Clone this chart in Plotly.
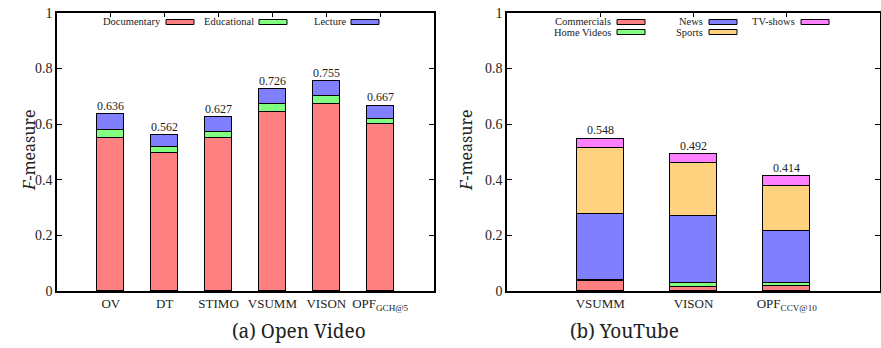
import plotly.graph_objects as go

W, H = 881, 348

# ---------------- data ----------------
ov_categories = ["OV", "DT", "STIMO", "VSUMM", "VISON", "OPF<sub>GCH@5</sub>"]
ov_series = ["Documentary", "Educational", "Lecture"]
ov_documentary = [0.551, 0.496, 0.552, 0.643, 0.672, 0.600]
ov_educational = [0.027, 0.023, 0.022, 0.031, 0.030, 0.019]
ov_lecture = [0.058, 0.043, 0.053, 0.052, 0.053, 0.048]
ov_totals = [0.636, 0.562, 0.627, 0.726, 0.755, 0.667]

yt_categories = ["VSUMM", "VISON", "OPF<sub>CCV@10</sub>"]
yt_series = ["Commercials", "Home Videos", "News", "Sports", "TV-shows"]
yt_commercials = [0.036, 0.017, 0.019]
yt_home_videos = [0.006, 0.012, 0.012]
yt_news = [0.236, 0.242, 0.187]
yt_sports = [0.236, 0.189, 0.162]
yt_tv_shows = [0.034, 0.032, 0.034]
yt_totals = [0.548, 0.492, 0.414]

y_ticks = [0, 0.2, 0.4, 0.6, 0.8, 1]
y_ticklabels = ["0", "0.2", "0.4", "0.6", "0.8", "1"]

# ---------------- style ----------------
RED = "#ff8080"
GREEN = "#80ff80"
BLUE = "#8080ff"
ORANGE = "#ffd280"
PINK = "#ff80ff"
FONT = "Liberation Serif"
WIDE = "Noto Serif"
TXT = "#222222"

ov_colors = [RED, GREEN, BLUE]
yt_colors = [RED, GREEN, BLUE, ORANGE, PINK]

fig = go.Figure()

ov_values = [ov_documentary, ov_educational, ov_lecture]
ov_x = list(range(len(ov_categories)))
for name, vals, col in zip(ov_series, ov_values, ov_colors):
    fig.add_trace(go.Bar(x=ov_x, y=vals, name=name, marker=dict(color=col, line=dict(color="black", width=1)),
                         width=0.5, xaxis="x", yaxis="y", showlegend=False, hoverinfo="skip"))

yt_values = [yt_commercials, yt_home_videos, yt_news, yt_sports, yt_tv_shows]
yt_x = list(range(len(yt_categories)))
for name, vals, col in zip(yt_series, yt_values, yt_colors):
    fig.add_trace(go.Bar(x=yt_x, y=vals, name=name, marker=dict(color=col, line=dict(color="black", width=1)),
                         width=0.5, xaxis="x2", yaxis="y2", showlegend=False, hoverinfo="skip"))

# value labels on top of bars
for i, t in enumerate(ov_totals):
    fig.add_annotation(x=i, y=t, xref="x", yref="y", text=f"{t:.3f}", showarrow=False,
                       yanchor="bottom", yshift=-1, font=dict(family=FONT, size=12, color=TXT))
for i, t in enumerate(yt_totals):
    fig.add_annotation(x=i, y=t, xref="x2", yref="y2", text=f"{t:.3f}", showarrow=False,
                       yanchor="bottom", yshift=-1, font=dict(family=FONT, size=12, color=TXT))

axis_common = dict(showline=True, linecolor="black", linewidth=1.5, mirror="ticks", ticks="inside",
                   ticklen=5, tickcolor="black", tickwidth=1, showgrid=False, zeroline=False,
                   automargin=False)

ydom = [1 - 291 / H, 1 - 12.7 / H]
fig.update_layout(
    template="none",
    width=W, height=H, margin=dict(l=0, r=0, t=0, b=0, autoexpand=False),
    paper_bgcolor="white", plot_bgcolor="white", barmode="stack", bargap=0,
    showlegend=False, font=dict(family=FONT, color=TXT),
    xaxis=dict(domain=[57 / W, 434 / W], range=[-1, 6], tickvals=ov_x, ticktext=ov_categories,
               anchor="y", layer="below traces", tickfont=dict(family=FONT, size=13, color=TXT), **axis_common),
    yaxis=dict(domain=ydom, range=[0, 1], tickvals=y_ticks, ticktext=y_ticklabels, anchor="x",
               tickfont=dict(family=FONT, size=14, color=TXT), **axis_common),
    xaxis2=dict(domain=[507 / W, 880 / W], range=[-1, 3], tickvals=yt_x, ticktext=yt_categories,
                anchor="y2", layer="below traces", tickfont=dict(family=FONT, size=13, color=TXT), **axis_common),
    yaxis2=dict(domain=ydom, range=[0, 1], tickvals=y_ticks, ticktext=y_ticklabels, anchor="x2",
                tickfont=dict(family=FONT, size=14, color=TXT), **axis_common),
)

# y-axis titles
for xc in (16, 466):
    fig.add_annotation(x=xc / W, y=1 - 150 / H, xref="paper", yref="paper", text="<i>F</i>-measure",
                       showarrow=False, textangle=-90, font=dict(family=WIDE, size=16, color=TXT))

# ---------------- custom legends (text, then sample) ----------------
def legend_item(label, color, text_right_px, sample_left_px, y_px):
    fig.add_annotation(x=text_right_px / W, y=1 - y_px / H, xref="paper", yref="paper", text=label,
                       showarrow=False, xanchor="right", yanchor="middle", xshift=2,
                       font=dict(family=FONT, size=10.5, color=TXT))
    fig.add_shape(type="rect", xref="paper", yref="paper",
                  x0=sample_left_px / W, x1=(sample_left_px + 28) / W,
                  y0=1 - (y_px + 2.5) / H, y1=1 - (y_px - 2.5) / H,
                  fillcolor=color, line=dict(color="black", width=1))

legend_item(ov_series[0], ov_colors[0], 161, 166, 22)
legend_item(ov_series[1], ov_colors[1], 254, 259, 22)
legend_item(ov_series[2], ov_colors[2], 346, 351, 22)

legend_item(yt_series[0], yt_colors[0], 611, 617, 22)
legend_item(yt_series[1], yt_colors[1], 611, 617, 32)
legend_item(yt_series[2], yt_colors[2], 703, 709, 22)
legend_item(yt_series[3], yt_colors[3], 703, 709, 32)
legend_item(yt_series[4], yt_colors[4], 795, 801, 22)

# captions
fig.add_annotation(x=230 / W, y=1 - 331 / H, xref="paper", yref="paper", text="(a) Open Video",
                   showarrow=False, yanchor="middle", font=dict(family=WIDE, size=19, color=TXT))
fig.add_annotation(x=681 / W, y=1 - 331 / H, xref="paper", yref="paper", text="(b) YouTube",
                   showarrow=False, yanchor="middle", font=dict(family=WIDE, size=19, color=TXT))

fig.write_html("out.html", config={"displayModeBar": False},
               post_script="document.body.style.margin='0';document.body.style.padding='0';"
                           "document.body.style.overflow='hidden';")
